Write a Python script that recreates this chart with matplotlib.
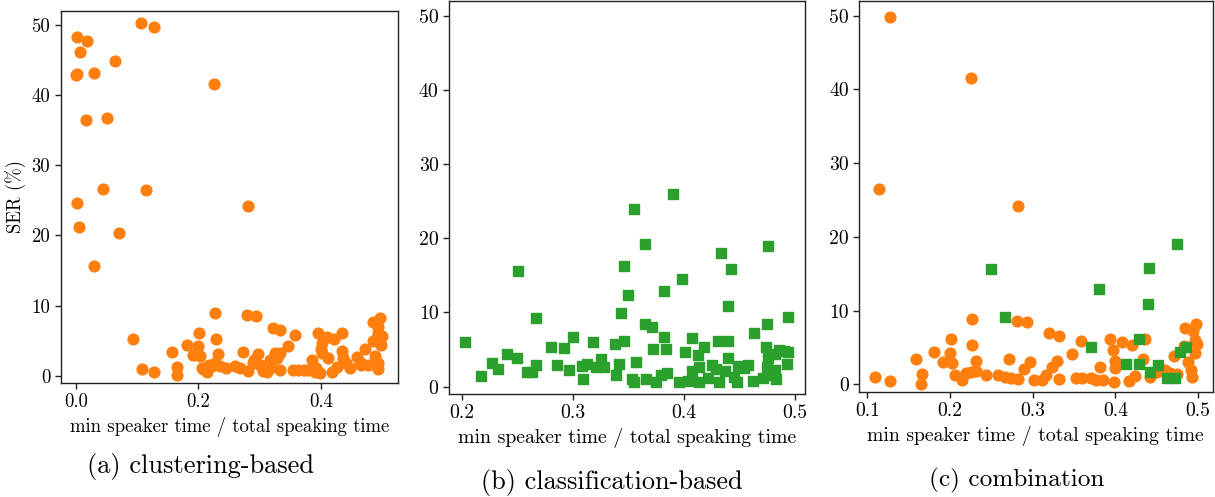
import matplotlib
matplotlib.use("Agg")
import matplotlib.pyplot as plt
import numpy as np

plt.rcParams['font.family'] = ['cmr10', 'DejaVu Serif']
plt.rcParams['axes.formatter.use_mathtext'] = True
plt.rcParams['axes.unicode_minus'] = False
plt.rcParams['mathtext.fontset'] = 'cm'

ORANGE = '#ff7f0e'
GREEN = '#2ca02c'

# ---------------- data ----------------
# (a) clustering-based
a_x = [0.002, 0.018, 0.007, 0.064, 0.000, 0.002, 0.030, 0.107, 0.128, 0.226,
       0.017, 0.051, 0.045, 0.114, 0.002, 0.282, 0.005, 0.071, 0.030, 0.093,
       0.109, 0.128, 0.158, 0.165, 0.165, 0.181, 0.191, 0.201, 0.200, 0.203,
       0.206, 0.208, 0.214, 0.217, 0.222, 0.227, 0.228, 0.229, 0.232, 0.235,
       0.246, 0.260, 0.268, 0.273, 0.279, 0.282, 0.290, 0.294, 0.291, 0.298,
       0.301, 0.306, 0.312, 0.317, 0.320, 0.322, 0.325, 0.328, 0.333, 0.334,
       0.334, 0.347, 0.358, 0.355, 0.363, 0.372, 0.379, 0.385, 0.391, 0.393,
       0.396, 0.399, 0.402, 0.402, 0.400, 0.410, 0.412, 0.418, 0.421, 0.426,
       0.434, 0.434, 0.437, 0.442, 0.448, 0.459, 0.464, 0.466, 0.472, 0.478,
       0.485, 0.486, 0.488, 0.491, 0.494, 0.494, 0.497, 0.497, 0.500, 0.499,
       0.494, 0.494]
a_y = [48.3, 47.7, 46.1, 44.9, 42.8, 43.0, 43.2, 50.2, 49.7, 41.6,
       36.5, 36.7, 26.6, 26.5, 24.6, 24.2, 21.2, 20.3, 15.6, 5.3,
       1.0, 0.5, 3.4, 1.3, 0.1, 4.4, 3.0, 6.1, 4.2, 2.8,
       1.2, 1.0, 0.6, 1.6, 1.4, 1.8, 8.9, 5.3, 3.1, 1.4,
       1.2, 1.4, 1.1, 3.4, 8.7, 0.7, 1.8, 8.5, 2.3, 3.1,
       1.5, 0.7, 0.6, 2.3, 1.3, 6.9, 3.2, 2.5, 3.3, 6.6,
       0.8, 4.2, 5.9, 0.9, 0.9, 0.9, 0.8, 2.3, 0.5, 1.1,
       6.1, 0.4, 4.7, 3.2, 3.8, 5.6, 2.6, 0.6, 5.3, 1.3,
       6.1, 3.5, 2.5, 1.8, 1.1, 2.7, 2.0, 1.5, 3.9, 1.6,
       7.7, 5.0, 2.9, 5.3, 7.0, 6.1, 8.2, 4.7, 5.7, 4.4,
       1.8, 1.0]

# (b) classification-based
b_x = [0.203, 0.217, 0.227, 0.233, 0.241, 0.250, 0.251, 0.259, 0.263, 0.267,
       0.267, 0.280, 0.286, 0.292, 0.297, 0.300, 0.308, 0.309, 0.313, 0.318,
       0.321, 0.325, 0.328, 0.338, 0.339, 0.342, 0.343, 0.346, 0.346, 0.350,
       0.353, 0.355, 0.355, 0.357, 0.365, 0.365, 0.366, 0.371, 0.372, 0.375,
       0.379, 0.382, 0.382, 0.384, 0.385, 0.390, 0.396, 0.398, 0.401, 0.404,
       0.407, 0.407, 0.413, 0.414, 0.414, 0.418, 0.422, 0.425, 0.429, 0.431,
       0.433, 0.432, 0.437, 0.440, 0.440, 0.440, 0.442, 0.445, 0.448, 0.449,
       0.454, 0.458, 0.462, 0.463, 0.471, 0.474, 0.475, 0.476, 0.475, 0.476,
       0.479, 0.482, 0.482, 0.483, 0.486, 0.490, 0.493, 0.494, 0.494]
b_y = [6.0, 1.4, 3.2, 2.4, 4.4, 3.9, 15.6, 1.9, 1.9, 2.9,
       9.2, 5.4, 2.9, 5.2, 2.2, 6.7, 2.8, 1.0, 3.1, 6.0,
       2.6, 3.7, 2.6, 5.8, 1.5, 3.0, 9.9, 6.2, 16.3, 12.3,
       1.0, 0.6, 23.9, 3.3, 19.2, 8.5, 1.0, 8.0, 5.1, 0.6,
       1.6, 12.9, 6.7, 5.1, 1.8, 26.0, 0.6, 14.5, 4.6, 0.7,
       6.5, 2.1, 4.2, 2.6, 0.6, 5.3, 1.2, 2.9, 2.4, 6.2,
       18.0, 0.6, 2.1, 3.9, 6.1, 10.9, 15.8, 1.3, 0.6, 2.8,
       2.5, 2.9, 0.8, 7.2, 1.1, 5.3, 8.5, 19.0, 2.7, 3.8,
       1.5, 4.4, 2.3, 1.0, 5.0, 4.8, 3.0, 9.4, 4.6]

# (c) combination: clustering part (orange) and classification part (green)
c_clu_x = [0.128, 0.226, 0.114, 0.282, 0.109, 0.127, 0.159, 0.166, 0.165, 0.181,
           0.191, 0.201, 0.200, 0.202, 0.206, 0.215, 0.227, 0.227, 0.232, 0.219,
           0.225, 0.231, 0.244, 0.258, 0.271, 0.266, 0.274, 0.282, 0.281, 0.293,
           0.289, 0.297, 0.302, 0.311, 0.316, 0.320, 0.332, 0.323, 0.329, 0.332,
           0.348, 0.359, 0.352, 0.360, 0.371, 0.377, 0.385, 0.381, 0.393, 0.397,
           0.399, 0.400, 0.398, 0.408, 0.420, 0.417, 0.424, 0.436, 0.434, 0.442,
           0.450, 0.460, 0.466, 0.474, 0.471, 0.484, 0.498, 0.494, 0.496, 0.499,
           0.496, 0.488, 0.492, 0.493, 0.483]
c_clu_y = [49.8, 41.6, 26.5, 24.2, 1.0, 0.5, 3.4, 1.4, 0.1, 4.4,
           3.0, 6.1, 4.2, 2.9, 1.2, 0.6, 8.8, 5.3, 3.1, 1.5,
           1.7, 1.8, 1.2, 1.3, 3.4, 1.0, 0.9, 0.7, 8.6, 8.4,
           2.1, 3.0, 0.6, 0.6, 1.2, 7.0, 6.6, 2.3, 3.2, 0.7,
           4.1, 5.9, 0.8, 0.8, 0.8, 0.6, 0.6, 2.4, 6.1, 4.7,
           3.2, 2.2, 0.3, 5.7, 5.3, 0.5, 1.1, 6.1, 3.4, 1.0,
           1.7, 2.0, 1.6, 1.4, 3.9, 7.7, 8.2, 7.2, 6.0, 5.5,
           4.3, 3.0, 2.0, 1.0, 5.2]
c_cls_x = [0.475, 0.250, 0.266, 0.380, 0.441, 0.439, 0.371, 0.429, 0.413, 0.429,
           0.452, 0.442, 0.462, 0.472, 0.478, 0.486]
c_cls_y = [19.0, 15.6, 9.2, 12.9, 15.8, 10.9, 5.1, 6.1, 2.7, 2.8,
           2.6, 1.7, 0.9, 0.9, 4.4, 5.1]

x_label = 'min speaker time / total speaking time'
y_label = 'SER (%)'
captions = ['(a) clustering-based', '(b) classification-based', '(c) combination']
a_xticks = [0.0, 0.2, 0.4]
b_xticks = [0.2, 0.3, 0.4, 0.5]
c_xticks = [0.1, 0.2, 0.3, 0.4, 0.5]
y_ticks = [0, 10, 20, 30, 40, 50]

# ---------------- layout ----------------
W, H = 1215, 497
fig = plt.figure(figsize=(W / 100, H / 100), dpi=100)

def rect(l, r, t, b):
    return [l / W, (H - b) / H, (r - l) / W, (b - t) / H]

axA = fig.add_axes(rect(60.7, 397.7, 10.7, 383))
axB = fig.add_axes(rect(449, 805, 1.0, 394))
axC = fig.add_axes(rect(859, 1212.7, 1.0, 391.7))

S_CIRC = 60
S_SQ = 52
axA.scatter(a_x, a_y, s=S_CIRC, color=ORANGE, marker='o', zorder=3)
axB.scatter(b_x, b_y, s=S_SQ, color=GREEN, marker='s', zorder=3)
axC.scatter(c_clu_x, c_clu_y, s=S_CIRC, color=ORANGE, marker='o', zorder=3)
axC.scatter(c_cls_x, c_cls_y, s=S_SQ, color=GREEN, marker='s', zorder=3)

axA.set_xlim(-0.0245, 0.5257)
axB.set_xlim(0.1886, 0.509)
axC.set_xlim(0.0900, 0.5177)
for ax, xt in ((axA, a_xticks), (axB, b_xticks), (axC, c_xticks)):
    ax.set_ylim(-1.0, 52.0)
    ax.set_xticks(xt)
    ax.set_xticklabels(['%.1f' % v for v in xt])
    ax.set_yticks(y_ticks)
    ax.set_yticklabels([str(v) for v in y_ticks])
    ax.set_xlabel(x_label)
    for sp in ax.spines.values():
        sp.set_color('#222222')
        sp.set_linewidth(1.0)
axA.set_ylabel(y_label)

cap_pos = [(201, 466), (612, 483), (1017, 480)]
cap_w = [227, 262, 175]
cap_texts = [fig.text(x / W, 1 - y / H, c, ha='center', va='center', fontsize=16)
             for (x, y), c in zip(cap_pos, captions)]

# fit font sizes to the reference text widths
fig.canvas.draw()
r = fig.canvas.get_renderer()
label_w = [320, 339, 337]
for ax, tw in zip((axA, axB, axC), label_w):
    lab = ax.xaxis.label
    w = lab.get_window_extent(r).width
    fs = lab.get_fontsize() * tw / w
    lab.set_fontsize(fs)
    ax.yaxis.label.set_fontsize(fs)
    ax.tick_params(labelsize=fs, length=4, width=1.0, color='#222222')
for t, tw in zip(cap_texts, cap_w):
    w = t.get_window_extent(r).width
    t.set_fontsize(t.get_fontsize() * tw / w)

fig.savefig('out.png', dpi=100)
